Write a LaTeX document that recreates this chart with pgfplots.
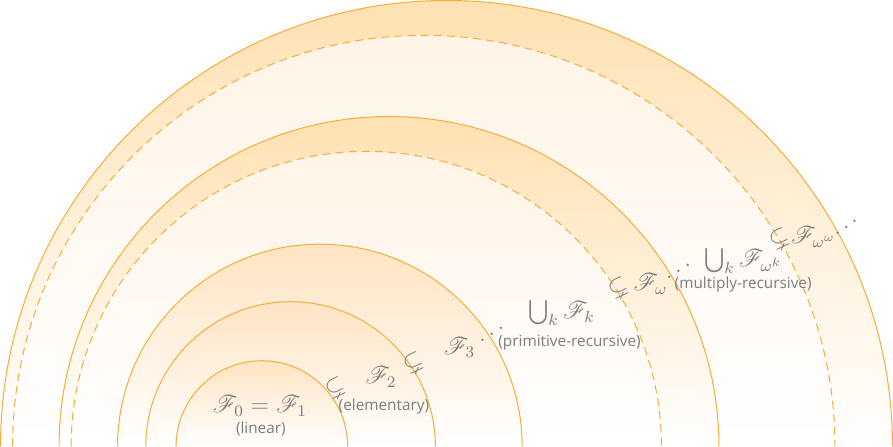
\documentclass[border=0pt]{standalone}
\usepackage{pgfplots}
\pgfplotsset{compat=1.18}
\usepackage{graphicx}
\usepackage{amssymb}
\usepackage{mathrsfs}
\usepackage{fontspec}
\newfontfamily\labfont{Open Sans}
\definecolor{ring}{HTML}{F7AD3E}
\definecolor{bandtop}{HTML}{FFE1B2}
\definecolor{bandmid}{HTML}{FFF6EA}
\definecolor{innertop}{HTML}{FFF4E6}
\definecolor{innermid}{HTML}{FFFBF6}
\definecolor{coretop}{HTML}{FFE4C2}
\definecolor{coremid}{HTML}{FFF6EC}
\definecolor{txt}{HTML}{7D7D7D}
\newcommand\iddots{\mathinner{\mathpalette\iddotsaux\relax}}
\newcommand\iddotsaux[2]{\reflectbox{$#1\ddots$}}
% #1 left x (px), #2 radius (0.5pt per px), #3 top, #4 middle, #5 line style
\newcommand\halfdisk[5]{%
  \shade[top color=#3, middle color=#4, bottom color=white]
    (axis cs:#1,0) arc[start angle=180, end angle=0, radius=#2pt] -- cycle;
  \draw[ring, line width=0.5pt, #5]
    (axis cs:#1,0) arc[start angle=180, end angle=0, radius=#2pt];
}
\begin{document}
\begin{tikzpicture}
\begin{axis}[
  x=0.5pt, y=0.5pt,
  xmin=0, xmax=893, ymin=0, ymax=450,
  hide axis, clip=false
]
\halfdisk{8}{221}{bandtop}{bandmid}{}
\halfdisk{20}{203.75}{innertop}{innermid}{dash pattern=on 4pt off 2.5pt}
\halfdisk{66}{163.5}{bandtop}{bandmid}{}
\halfdisk{78}{146.25}{innertop}{innermid}{dash pattern=on 4pt off 2.5pt}
\halfdisk{124}{100.25}{coretop}{coremid}{}
\halfdisk{152}{71.75}{coretop}{coremid}{}
\halfdisk{182}{42.5}{coretop}{coremid}{}

\tikzset{m/.style={text=txt, font=\fontsize{12}{14}\selectfont, inner sep=0pt},
         l/.style={text=txt, font=\labfont\fontsize{7.6}{9}\selectfont, inner sep=0pt},
         s/.style={m, rotate=25}}
\node[m] at (axis cs:265,40) {$\mathscr F_0=\mathscr F_1$};
\node[l] at (axis cs:266,17) {(linear)};
\node[s] at (axis cs:340,58) {$\subsetneq$};
\node[m] at (axis cs:385,69) {$\mathscr F_2$};
\node[l] at (axis cs:388,40) {(elementary)};
\node[s] at (axis cs:417,83) {$\subsetneq$};
\node[m] at (axis cs:463,98) {$\mathscr F_3$};
\node[m] at (axis cs:495,117) {$\iddots$};
\node[m] at (axis cs:564,132) {$\bigcup_k \mathscr F_k$};
\node[l] at (axis cs:572,103) {(primitive-recursive)};
\node[s] at (axis cs:620,157) {$\subsetneq$};
\node[m] at (axis cs:652,161) {$\mathscr F_\omega$};
\node[m] at (axis cs:680,180) {$\iddots$};
\node[m] at (axis cs:744,184) {$\bigcup_k \mathscr F_{\omega^k}$};
\node[l] at (axis cs:744,161) {(multiply-recursive)};
\node[s] at (axis cs:780,206) {$\subsetneq$};
\node[m, anchor=base west] at (axis cs:791,201) {$\mathscr F_{\smash{\omega^{\omega^{\iddots}}}}$};
\end{axis}
\end{tikzpicture}
\end{document}
